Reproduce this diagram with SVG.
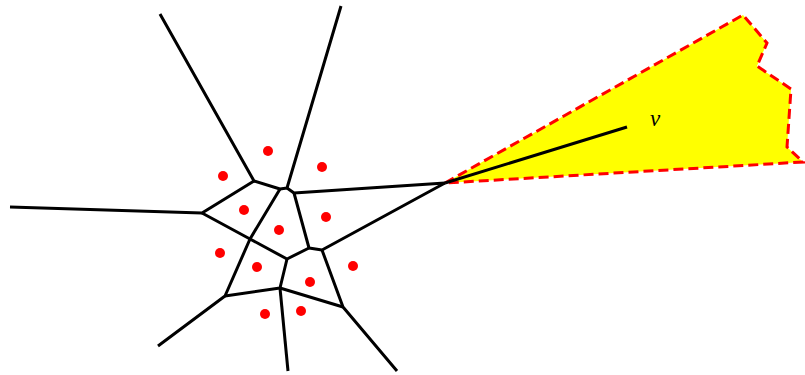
<svg xmlns="http://www.w3.org/2000/svg" width="805" height="375" viewBox="0 0 805 375">
<style>
.e{stroke:#000;stroke-width:3;fill:none;stroke-linecap:butt;stroke-linejoin:round}
.s{fill:#ff0000}
.reg{fill:#ffff00;stroke:#ff0000;stroke-width:3;stroke-dasharray:10,5;stroke-linejoin:miter}
.lab{font-family:"Liberation Serif",serif;font-style:italic;font-size:23px;fill:#000}
</style>
<rect width="805" height="375" fill="#fff"/>
<g id="region">
<polygon class="reg" points="445,183 743,15 767,43 757,66 791,89 787,147 803,162"/>
</g>
<g id="edges">
<path class="e" d="M160,14 L254,181 L280,189 L287,188 L341,6"/>
<path class="e" d="M287,188 L294,193 L445,183"/>
<path class="e" d="M10,207 L202,213 L254,181"/>
<path class="e" d="M202,213 L250,239 L280,189"/>
<path class="e" d="M294,193 L309,248 L322,250 L445,183"/>
<path class="e" d="M322,250 L343,307 L397,371"/>
<path class="e" d="M309,248 L287,259 L250,239 L225,296 L158,346"/>
<path class="e" d="M287,259 L280,288 L225,296"/>
<path class="e" d="M280,288 L288,371"/>
<path class="e" d="M280,288 L343,307"/>
<path class="e" d="M445,183 L627,127"/>
</g>
<g id="sites">
<circle class="s" cx="268" cy="151" r="5"/>
<circle class="s" cx="322" cy="167" r="5"/>
<circle class="s" cx="223" cy="176" r="5"/>
<circle class="s" cx="244" cy="210" r="5"/>
<circle class="s" cx="326" cy="217" r="5"/>
<circle class="s" cx="279" cy="230" r="5"/>
<circle class="s" cx="220" cy="253" r="5"/>
<circle class="s" cx="257" cy="267" r="5"/>
<circle class="s" cx="310" cy="282" r="5"/>
<circle class="s" cx="353" cy="266" r="5"/>
<circle class="s" cx="265" cy="314" r="5"/>
<circle class="s" cx="301" cy="311" r="5"/>
</g>
<g id="label-v">
<text class="lab" x="655" y="126" text-anchor="middle">v</text>
</g>
</svg>
